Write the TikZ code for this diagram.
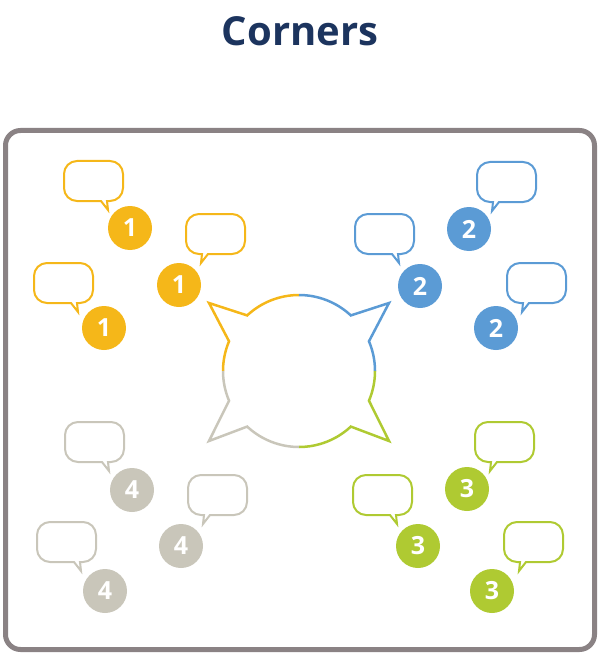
\documentclass[tikz,border=0pt]{standalone}
\usepackage{fontspec}
\setmainfont{Open Sans}
\definecolor{ycol}{HTML}{F5B719}
\definecolor{bcol}{HTML}{5B9BD5}
\definecolor{gcol}{HTML}{AFCA32}
\definecolor{scol}{HTML}{C9C6BA}
\definecolor{framec}{HTML}{8A8284}
\definecolor{titlec}{HTML}{1C345E}
\newcommand{\bubblepath}[1]{%
  \draw[bubble,draw=#1] (43,-40) -- (46,-40) arc[start angle=270,end angle=360,radius=13]
    -- (59,-13) arc[start angle=0,end angle=90,radius=13]
    -- (13,0) arc[start angle=90,end angle=180,radius=13]
    -- (0,-27) arc[start angle=180,end angle=270,radius=13]
    -- (37,-40) -- (44,-49) -- cycle;}
\newcommand{\bubbleR}[3]{%
  \begin{scope}[shift={(#1+1,-#2-1)}]\bubblepath{#3}\end{scope}}
\newcommand{\bubbleL}[3]{%
  \begin{scope}[shift={(#1+60,-#2-1)},xscale=-1]\bubblepath{#3}\end{scope}}
\begin{document}
\begin{tikzpicture}[x=1pt,y=1pt,
  bubble/.style={line width=2pt,fill=white,line join=miter},
  num/.style={circle,minimum size=44pt,inner sep=0pt,text=white,
    font=\fontsize{25}{25}\selectfont\bfseries},
  core/.style={line width=2.5pt,line join=miter,miter limit=20}]
\useasboundingbox (0,0) rectangle (600,-655);
% title
\node[anchor=base,text=titlec,font=\fontsize{40}{48}\selectfont\bfseries,inner sep=0pt] (title) at (300,-46) {Corners};
% frame
\draw[framec,line width=5pt,rounded corners=15pt] (5.5,-130.5) rectangle (594.5,-649.5);
% central shape
\begin{scope}[shift={(299,-371)}]
  \draw[core,ycol] (90:76) arc[start angle=90,end angle=133,radius=76] -- (-90,68) -- (157:76) arc[start angle=157,end angle=180,radius=76];
  \draw[core,bcol] (0:76) arc[start angle=0,end angle=23,radius=76] -- (90,68) -- (47:76) arc[start angle=47,end angle=90,radius=76];
  \draw[core,gcol] (270:76) arc[start angle=270,end angle=313,radius=76] -- (90,-70) -- (337:76) arc[start angle=337,end angle=360,radius=76];
  \draw[core,scol] (180:76) arc[start angle=180,end angle=203,radius=76] -- (-90,-70) -- (227:76) arc[start angle=227,end angle=270,radius=76];
\end{scope}
% yellow
\bubbleR{63}{160}{ycol}
\bubbleL{185}{213}{ycol}
\bubbleR{33}{262}{ycol}
\node[num,fill=ycol] (y1) at (130,-228) {1};
\node[num,fill=ycol] (y2) at (179,-285) {1};
\node[num,fill=ycol] (y3) at (104,-328) {1};
% blue
\bubbleL{476}{161}{bcol}
\bubbleR{354}{213}{bcol}
\bubbleL{506}{262}{bcol}
\node[num,fill=bcol] (b1) at (469,-229) {2};
\node[num,fill=bcol] (b2) at (420,-286) {2};
\node[num,fill=bcol] (b3) at (496,-328) {2};
% gray
\bubbleR{64}{421}{scol}
\bubbleL{187}{474}{scol}
\bubbleR{36}{521}{scol}
\node[num,fill=scol] (s1) at (132,-490) {4};
\node[num,fill=scol] (s2) at (181,-546) {4};
\node[num,fill=scol] (s3) at (105,-591) {4};
% green
\bubbleL{474}{421}{gcol}
\bubbleR{352}{474}{gcol}
\bubbleL{503}{521}{gcol}
\node[num,fill=gcol] (g1) at (467,-489) {3};
\node[num,fill=gcol] (g2) at (418,-546) {3};
\node[num,fill=gcol] (g3) at (492,-591) {3};
\end{tikzpicture}
\end{document}
